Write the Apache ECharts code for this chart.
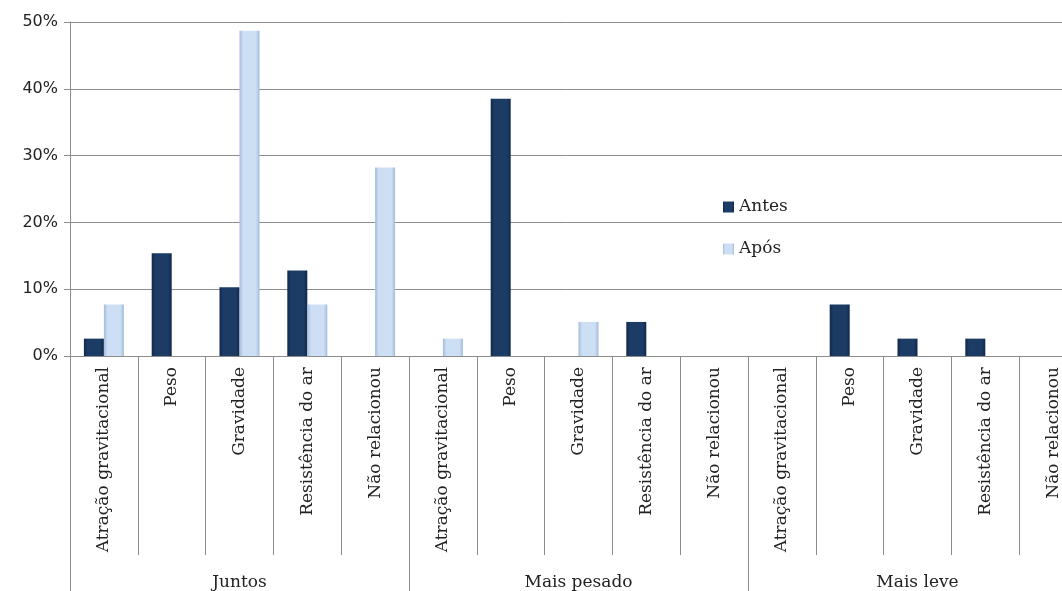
<!DOCTYPE html>
<html>
<head>
<meta charset="utf-8">
<script src="https://cdn.jsdelivr.net/npm/echarts@6/dist/echarts.min.js"></script>
<style>html,body{margin:0;padding:0;background:#fff;}#c{width:1062px;height:591px;}</style>
</head>
<body>
<div id="c"></div>
<script>
const groups = ['Juntos', 'Mais pesado', 'Mais leve'];
const subCategories = ['Atração gravitacional', 'Peso', 'Gravidade', 'Resistência do ar', 'Não relacionou'];
const categories = [].concat(subCategories, subCategories, subCategories);
// percentages; null = no bar
const antes = [2.6, 15.4, 10.3, 12.8, null,   null, 38.5, null, 5.1, null,   null, 7.7, 2.6, 2.6, null];
const apos  = [7.7, null, 48.7, 7.7, 28.2,    2.6, null, 5.1, null, null,    null, null, null, null, null];
const yTicks = [0, 10, 20, 30, 40, 50];

const serif = 'DejaVu Serif';
const gridBox = {left: 70, width: 1017, top: 22, bottom: 235, containLabel: false, outerBoundsMode: 'none'};

function grad(edge, mid) {
  return new echarts.graphic.LinearGradient(0, 0, 1, 0, [
    {offset: 0, color: edge}, {offset: 0.18, color: mid},
    {offset: 0.82, color: mid}, {offset: 1, color: edge}
  ]);
}

const chart = echarts.init(document.getElementById('c'), null, {renderer: 'canvas'});
chart.setOption({
  animation: false,
  backgroundColor: '#ffffff',
  grid: [Object.assign({}, gridBox), Object.assign({}, gridBox)],
  legend: {
    orient: 'vertical', left: 718, top: 192,
    icon: 'rect',
    itemWidth: 11, itemHeight: 11, itemGap: 22,
    textStyle: {fontFamily: serif, fontSize: 17, color: '#222', lineHeight: 20},
    data: ['Antes', 'Após']
  },
  xAxis: [{
    type: 'category', gridIndex: 0, data: categories,
    axisLine: {lineStyle: {color: '#8c8c8c'}},
    axisTick: {show: true, interval: 0, length: 199, lineStyle: {color: '#8c8c8c'}},
    axisLabel: {interval: 0, rotate: 90, margin: 11, fontFamily: serif, fontSize: 17, color: '#222'}
  }, {
    type: 'category', gridIndex: 1, data: groups,
    axisLine: {show: false},
    axisTick: {show: true, interval: 0, length: 240, lineStyle: {color: '#8c8c8c'}},
    axisLabel: {interval: 0, margin: 218, fontFamily: serif, fontSize: 17, color: '#222'}
  }],
  yAxis: [{
    type: 'value', gridIndex: 0, min: 0, max: 50, interval: 10,
    axisLine: {show: true, lineStyle: {color: '#8c8c8c'}},
    axisTick: {show: true, length: 6, lineStyle: {color: '#8c8c8c'}},
    splitLine: {lineStyle: {color: '#8c8c8c'}},
    axisLabel: {formatter: function (v) { return yTicks.indexOf(v) >= 0 ? v + '%' : ''; },
                margin: 12, fontFamily: 'DejaVu Sans', fontSize: 16, color: '#222'}
  }, {
    type: 'value', gridIndex: 1, min: 0, max: 50, show: false
  }],
  series: [{
    name: 'Antes', type: 'bar', xAxisIndex: 0, yAxisIndex: 0, data: antes,
    barWidth: 20, barGap: '0%',
    itemStyle: {color: grad('#10284a', '#1c3c66')}
  }, {
    name: 'Após', type: 'bar', xAxisIndex: 0, yAxisIndex: 0, data: apos,
    barWidth: 20, barGap: '0%',
    itemStyle: {color: grad('#a3bbd9', '#cddff5')}
  }]
});
</script>
</body>
</html>
